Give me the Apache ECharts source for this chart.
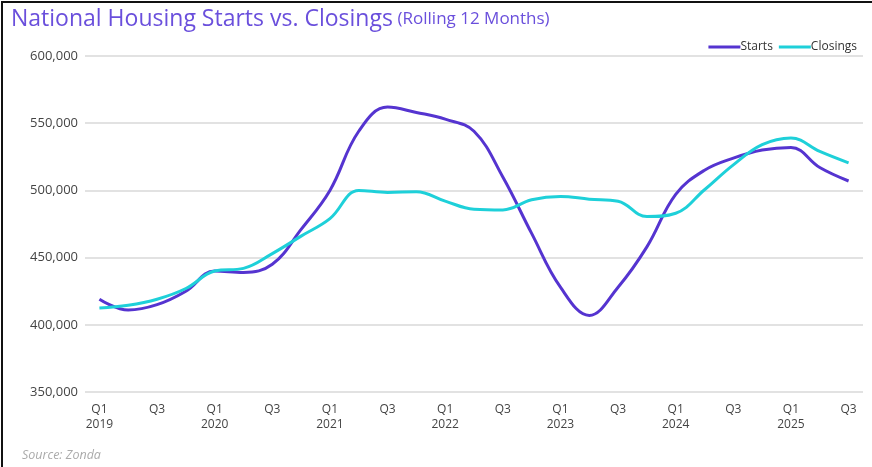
<!DOCTYPE html>
<html>
<head>
<meta charset="utf-8">
<script src="https://cdn.jsdelivr.net/npm/echarts@6/dist/echarts.min.js"></script>
<style>
  html, body { margin: 0; padding: 0; background: #fff; }
  #chart { width: 872px; height: 467px; }
</style>
</head>
<body>
<div id="chart"></div>
<script>
// quarters, Q1 2019 .. Q3 2025
const categories = [
  'Q1 2019', 'Q2 2019', 'Q3 2019', 'Q4 2019',
  'Q1 2020', 'Q2 2020', 'Q3 2020', 'Q4 2020',
  'Q1 2021', 'Q2 2021', 'Q3 2021', 'Q4 2021',
  'Q1 2022', 'Q2 2022', 'Q3 2022', 'Q4 2022',
  'Q1 2023', 'Q2 2023', 'Q3 2023', 'Q4 2023',
  'Q1 2024', 'Q2 2024', 'Q3 2024', 'Q4 2024',
  'Q1 2025', 'Q2 2025', 'Q3 2025'
];
// axis text under each quarter (blank for Q2/Q4)
const tickLabels = [
  'Q1\n2019', '', 'Q3', '',
  'Q1\n2020', '', 'Q3', '',
  'Q1\n2021', '', 'Q3', '',
  'Q1\n2022', '', 'Q3', '',
  'Q1\n2023', '', 'Q3', '',
  'Q1\n2024', '', 'Q3', '',
  'Q1\n2025', '', 'Q3'
];
const starts = [
  419000, 411000, 415000, 425000,
  440000, 439000, 445000, 471000,
  500000, 544000, 562000, 558000,
  553000, 544000, 510000, 468000,
  428000, 407000, 428000, 458000,
  497000, 515000, 524000, 530000,
  532000, 517000, 507000
];
const closings = [
  412500, 414500, 419000, 427000,
  440000, 442000, 453000, 466000,
  479000, 500000, 498500, 499000,
  492000, 486000, 485500, 493000,
  495500, 493500, 492000, 480500,
  483000, 500500, 519000, 534000,
  539000, 529000, 520500
];

const FONT = 'Open Sans';
const chart = echarts.init(document.getElementById('chart'));

chart.setOption({
  backgroundColor: '#fff',
  animation: false,
  textStyle: { fontFamily: FONT },
  title: {
    left: 6,
    top: 3,
    text: '{main|National Housing Starts vs. Closings} {sub|(Rolling 12 Months)}',
    textStyle: {
      fontWeight: 'normal',
      rich: {
        main: { fontFamily: FONT, fontSize: 23, fontWeight: 'normal', color: '#6a4fdc' },
        sub: { fontFamily: FONT, fontSize: 17, fontWeight: 'normal', color: '#6a4fdc' }
      }
    }
  },
  legend: {
    right: 10,
    top: 36,
    itemWidth: 32,
    itemHeight: 3,
    itemGap: 6,
    icon: 'rect',
    textStyle: { color: '#333', fontSize: 12, fontFamily: FONT, padding: [0, 0, 0, -5] },
    data: ['Starts', 'Closings']
  },
  grid: { left: 85, right: 9, top: 56, bottom: 75 },
  xAxis: {
    type: 'category',
    data: categories,
    boundaryGap: true,
    axisLine: { show: false },
    axisTick: { show: false },
    axisLabel: {
      interval: 0,
      color: '#444',
      fontSize: 12,
      lineHeight: 15,
      margin: 10,
      formatter: (v, i) => tickLabels[i]
    }
  },
  yAxis: {
    type: 'value',
    min: 350000,
    max: 600000,
    interval: 50000,
    axisLine: { show: false },
    axisTick: { show: false },
    axisLabel: {
      color: '#444',
      fontSize: 13,
      margin: 7,
      formatter: v => v.toLocaleString('en-US')
    },
    splitLine: { lineStyle: { color: '#d9d9d9', width: 1.5 } }
  },
  series: [
    {
      name: 'Starts',
      type: 'line',
      data: starts,
      smooth: 0.4,
      showSymbol: false,
      itemStyle: { color: '#5534d0' },
      lineStyle: { color: '#5534d0', width: 3 }
    },
    {
      name: 'Closings',
      type: 'line',
      data: closings,
      smooth: 0.4,
      showSymbol: false,
      itemStyle: { color: '#1ed0d9' },
      lineStyle: { color: '#1ed0d9', width: 3 }
    }
  ],
  graphic: [
    {
      type: 'polyline',
      shape: { points: [[2, 467], [2, 2], [872, 2]] },
      style: { stroke: '#111', lineWidth: 2, fill: null }
    },
    {
      type: 'text',
      left: 22,
      top: 449,
      style: {
        text: 'Source: Zonda',
        fill: '#aaa',
        fontSize: 12.5,
        fontStyle: 'italic',
        fontFamily: FONT
      }
    }
  ]
});
</script>
</body>
</html>
